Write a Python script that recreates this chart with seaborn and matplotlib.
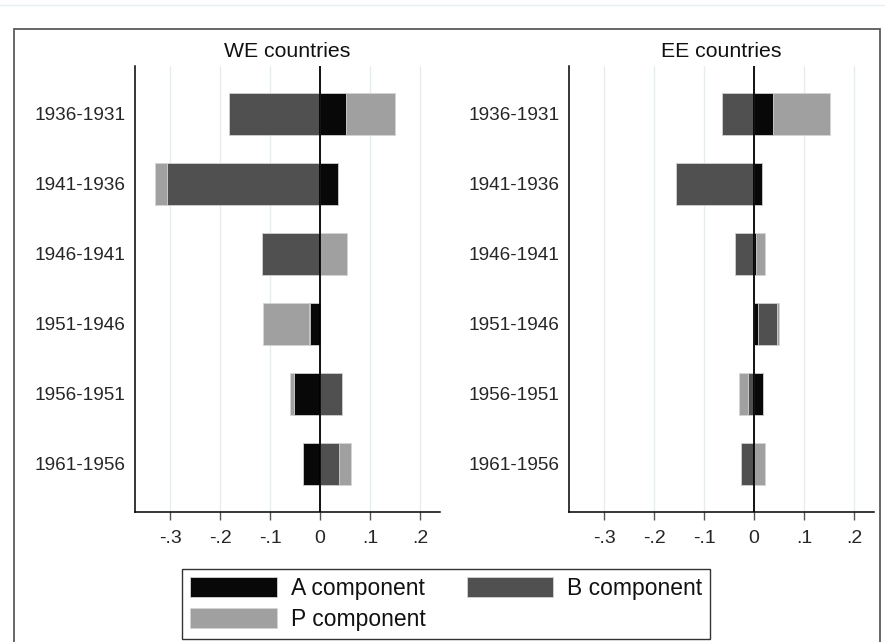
import pandas as pd
import numpy as np
import matplotlib.pyplot as plt
import seaborn as sns
from matplotlib.patches import Patch, Rectangle
from matplotlib.lines import Line2D

periods = ['1936-1931', '1941-1936', '1946-1941', '1951-1946', '1956-1951', '1961-1956']

# WE countries
we_a = [0.052, 0.035, 0.000, -0.020, -0.053, -0.035]
we_b = [-0.183, -0.307, -0.117, -0.003, 0.043, 0.037]
we_p = [0.098, -0.023, 0.054, -0.091, -0.007, 0.024]

# EE countries
ee_a = [0.037, 0.015, 0.004, 0.008, 0.017, 0.000]
ee_b = [-0.064, -0.156, -0.038, 0.037, -0.013, -0.026]
ee_p = [0.115, 0.000, 0.017, 0.004, -0.017, 0.021]

xticks = [-0.3, -0.2, -0.1, 0, 0.1, 0.2]
xtick_labels = ['-.3', '-.2', '-.1', '0', '.1', '.2']

colors = {'A': '#080808', 'B': '#505050', 'P': '#a0a0a0'}
labels = {'A': 'A component', 'B': 'B component', 'P': 'P component'}

sns.set_theme(style='white')
plt.rcParams['font.family'] = ['Liberation Sans', 'DejaVu Sans']
plt.rcParams['text.color'] = '#111111'

W, H = 885, 642
fig = plt.figure(figsize=(W / 100, H / 100), dpi=100)
fig.patch.set_facecolor('white')


def px_axes(x0, y0, x1, y1):
    # axes from pixel box (top-left origin)
    return fig.add_axes([x0 / W, 1 - y1 / H, (x1 - x0) / W, (y1 - y0) / H])


def draw_panel(ax, a, b, p, title):
    df = pd.DataFrame({'period': periods, 'A': a, 'B': b, 'P': p})
    comps = df[['A', 'B', 'P']]
    pos = comps.clip(lower=0).cumsum(axis=1)
    neg = comps.clip(upper=0).cumsum(axis=1)
    # overlapping cumulative bars give the stacked look
    for cum in (pos, neg):
        for comp in ['P', 'B', 'A']:
            sns.barplot(x=cum[comp].values, y=df['period'], color=colors[comp],
                        saturation=1, width=0.6, orient='h', errorbar=None,
                        edgecolor='#d4d4d4', linewidth=0.6, ax=ax)
    ax.axvline(0, color='black', lw=1.3, zorder=5)
    ax.set_xlim(-0.37, 0.24)
    ax.set_ylim(5.686, -0.69)
    ax.set_xticks(xticks)
    ax.set_xticklabels(xtick_labels, fontsize=14)
    ax.tick_params(axis='y', labelsize=13.7, length=0, pad=7)
    ax.tick_params(axis='x', length=6, width=1, color='#555555', pad=7,
                   bottom=True)
    ax.grid(axis='x', color='#e4eef0', lw=1)
    ax.grid(axis='y', visible=False)
    ax.set_axisbelow(True)
    for side in ['top', 'right']:
        ax.spines[side].set_visible(False)
    for side in ['left', 'bottom']:
        ax.spines[side].set_color('black')
        ax.spines[side].set_linewidth(1.1)
    ax.set_xlabel('')
    ax.set_ylabel('')
    ax.set_title(title, fontsize=15.3, pad=6)
    ax.set_facecolor('white')


ax1 = px_axes(135, 65.7, 440, 512)
ax2 = px_axes(569.3, 65.7, 874, 512)
draw_panel(ax1, we_a, we_b, we_p, 'WE countries')
draw_panel(ax2, ee_a, ee_b, ee_p, 'EE countries')

# outer frame and faint top rule
fig.patches.append(Rectangle((14 / W, -0.02), (880 - 14) / W, 1 - 29 / H + 0.02,
                             transform=fig.transFigure, fill=False,
                             edgecolor='#5a5a5a', lw=1.3))
fig.lines.append(Line2D([0, 1], [1 - 4.5 / H] * 2, transform=fig.transFigure,
                        color='#e6eef0', lw=1))

handles = [Patch(facecolor=colors[c], edgecolor='#d4d4d4', lw=0.6) for c in ['A', 'P', 'B']]
leg = fig.legend(handles, [labels[c] for c in ['A', 'P', 'B']], ncol=2,
                 loc='lower left', bbox_to_anchor=(182.3 / W, 1 - 639 / H),
                 fontsize=16.5, frameon=True, fancybox=False, handlelength=3.78,
                 handleheight=1.0, handletextpad=0.6, columnspacing=1.8,
                 labelspacing=0.36, borderpad=0.35, borderaxespad=0)
leg.get_frame().set_edgecolor('black')
leg.get_frame().set_linewidth(1.0)

plt.savefig('out.png', dpi=100, facecolor='white')
